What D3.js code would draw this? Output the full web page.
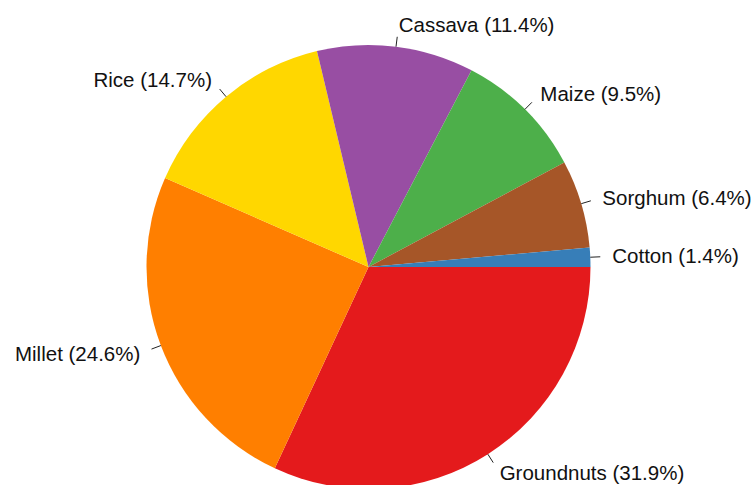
<!DOCTYPE html>
<html>
<head>
<meta charset="utf-8">
<script src="https://cdn.jsdelivr.net/npm/d3@7"></script>
<style>
  body { margin: 0; background: #fff; }
  text { font-family: "Liberation Sans", Arial, sans-serif; font-size: 20.5px; fill: #111; }
</style>
</head>
<body>
<div id="chart"></div>
<script>
const crops = ["Groundnuts", "Millet", "Rice", "Cassava", "Maize", "Sorghum", "Cotton"];
const shares = [31.9, 24.6, 14.7, 11.4, 9.5, 6.4, 1.4];
const colors = ["#e41a1c", "#ff7f00", "#ffd700", "#984ea3", "#4daf4a", "#a65628", "#377eb8"];

const width = 754, height = 485;
const cx = 368.5, cy = 267, radius = 222;

const svg = d3.select("#chart")
  .append("svg")
  .attr("width", width)
  .attr("height", height);

const g = svg.append("g")
  .attr("transform", `translate(${cx}, ${cy})`);

const data = crops.map((c, i) => ({crop: c, share: shares[i]}));

// start at 3 o'clock and go clockwise
const pie = d3.pie()
  .sort(null)
  .value(d => d.share)
  .startAngle(Math.PI / 2)
  .endAngle(Math.PI / 2 + 2 * Math.PI);

const colorScale = d3.scaleOrdinal()
  .domain(crops)
  .range(colors);

const arc = d3.arc()
  .innerRadius(0)
  .outerRadius(radius);

const arcs = pie(data);

g.selectAll(".slice")
  .data(arcs)
  .enter()
  .append("path")
  .attr("class", "slice")
  .attr("d", arc)
  .attr("fill", d => colorScale(d.data.crop));

function pointAt(d, r) {
  const a = (d.startAngle + d.endAngle) / 2 - Math.PI / 2;
  return [Math.cos(a) * r, Math.sin(a) * r];
}

g.selectAll(".tick-line")
  .data(arcs)
  .enter()
  .append("line")
  .attr("class", "tick-line")
  .attr("x1", d => pointAt(d, radius)[0])
  .attr("y1", d => pointAt(d, radius)[1])
  .attr("x2", d => pointAt(d, radius + 10)[0])
  .attr("y2", d => pointAt(d, radius + 10)[1])
  .attr("stroke", "#222")
  .attr("stroke-width", 1);

g.selectAll(".label")
  .data(arcs)
  .enter()
  .append("text")
  .attr("class", "label")
  .attr("x", d => pointAt(d, radius + 22)[0])
  .attr("y", d => pointAt(d, radius + 22)[1])
  .attr("dy", "0.35em")
  .attr("text-anchor", d => pointAt(d, 1)[0] >= 0 ? "start" : "end")
  .text(d => `${d.data.crop} (${d.data.share.toFixed(1)}%)`);
</script>
</body>
</html>
